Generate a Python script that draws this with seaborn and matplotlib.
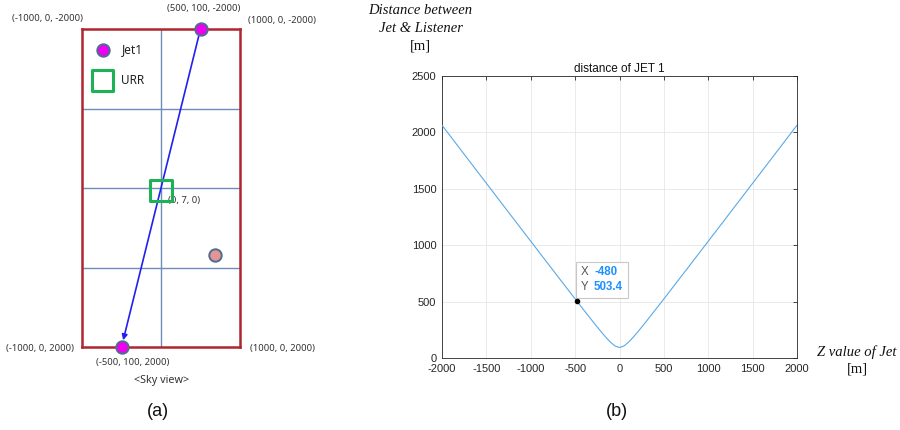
import numpy as np
import pandas as pd
import matplotlib
matplotlib.use("Agg")
import matplotlib.pyplot as plt
import seaborn as sns
from matplotlib.offsetbox import TextArea, HPacker, VPacker, AnnotationBbox

# ---------------- data ----------------
# (b) distance of JET 1 vs Z value of jet
z_vals = [-2000, -1750, -1500, -1250, -1000, -750, -500, -480, -400, -300, -250, -200,
          -150, -100, -50, 0, 50, 100, 150, 200, 250, 300, 400, 500, 750, 1000,
          1250, 1500, 1750, 2000]
dist_vals = [2063.7, 1806.3, 1549.0, 1291.8, 1035.0, 778.7, 523.7, 503.4, 422.7, 322.9,
             274.0, 226.2, 180.4, 138.8, 106.3, 93.0, 106.3, 138.8, 180.4, 226.2,
             274.0, 322.9, 422.7, 523.7, 778.7, 1035.0, 1291.8, 1549.0, 1806.3, 2063.7]
x_ticks = [-2000, -1500, -1000, -500, 0, 500, 1000, 1500, 2000]
y_ticks = [0, 500, 1000, 1500, 2000, 2500]
tip_x, tip_y = -480, 503.4

# (a) sky view (x, z) positions
area_x = [-1000, 1000]
area_z = [-2000, 2000]
grid_x = [0]
grid_z = [-1000, 0, 1000]
jet_start = (500, -2000)
jet_end = (-500, 2000)
urr_pos = (0, 0)
other_pos = (684, 843)
corner_labels = ["(-1000, 0, -2000)", "(1000, 0, -2000)", "(-1000, 0, 2000)", "(1000, 0, 2000)"]
corner_pts = [(-1000, -2000), (1000, -2000), (-1000, 2000), (1000, 2000)]
jet_labels = ["(500, 100, -2000)", "(-500, 100, 2000)"]
urr_label = "(0, 7, 0)"

# ---------------- figure ----------------
sns.set_theme(style="white")
plt.rcParams['font.family'] = ['Noto Sans', 'DejaVu Sans']
plt.rcParams['axes.unicode_minus'] = False

fig = plt.figure(figsize=(9, 4.3), dpi=100)

# ======== panel (a) ========
ax1 = fig.add_axes([82/900, 1-347/430, 158/900, 318/430])
ax1.set_xlim(area_x)
ax1.set_ylim(area_z[1], area_z[0])
ax1.set_xticks([]); ax1.set_yticks([])
for s in ax1.spines.values():
    s.set_color('#b0262f'); s.set_linewidth(1.8); s.set_zorder(5)
for gx in grid_x:
    ax1.axvline(gx, color='#6f8cb8', lw=1.0, zorder=1)
for gz in grid_z:
    ax1.axhline(gz, color='#6f8cb8', lw=1.0, zorder=1)

# jet path arrow
ax1.annotate("", xy=jet_end, xytext=jet_start,
             arrowprops=dict(arrowstyle='-|>', color='#2020f0', lw=1.2,
                             mutation_scale=8, shrinkA=0, shrinkB=5),
             annotation_clip=False, zorder=3)

jets = pd.DataFrame({"x": [jet_start[0], jet_end[0]], "z": [jet_start[1], jet_end[1]]})
sns.scatterplot(data=jets, x="x", y="z", ax=ax1, s=80, color='#f000f0',
                edgecolor='#4d6e8e', linewidth=1.4, zorder=6, clip_on=False, legend=False)
sns.scatterplot(x=[other_pos[0]], y=[other_pos[1]], ax=ax1, s=80, color='#e39494',
                edgecolor='#4d6e8e', linewidth=1.4, zorder=6, legend=False)
ax1.scatter([urr_pos[0]], [urr_pos[1] + 30], marker='s', s=230, facecolor='none',
            edgecolor='#1db355', linewidth=2.2, zorder=4)
ax1.set_xlabel(""); ax1.set_ylabel("")

# legend (drawn in-place)
ax1.scatter([-740], [-1740], s=80, color='#f000f0', edgecolor='#4d6e8e', linewidth=1.4, zorder=6)
ax1.text(-500, -1740, "Jet1", fontsize=8.5, va='center', ha='left', color='#222222')
ax1.scatter([-740], [-1350], marker='s', s=230, facecolor='none', edgecolor='#1db355',
            linewidth=2.2, zorder=6)
ax1.text(-500, -1350, "URR", fontsize=8.5, va='center', ha='left', color='#222222')

lab_kw = dict(textcoords='offset pixels', fontsize=6.8, color='#333333',
              ha='center', va='center', annotation_clip=False)
corner_offsets = [(-34, 10), (42, 9), (-42, -2), (43, -2)]
for lab, pt, off in zip(corner_labels, corner_pts, corner_offsets):
    ax1.annotate(lab, xy=pt, xytext=off, **lab_kw)
ax1.annotate(jet_labels[0], xy=jet_start, xytext=(3, 21), **lab_kw)
ax1.annotate(jet_labels[1], xy=jet_end, xytext=(11, -15), **lab_kw)
ax1.annotate(urr_label, xy=urr_pos, xytext=(7, -12), textcoords='offset pixels',
             fontsize=6.8, color='#333333', ha='left', va='center')
ax1.annotate("<Sky view>", xy=(0, 2000), xytext=(1, -34),
             **{**lab_kw, 'fontsize': 7.8})
fig.text(158/900, 1-412/430, "(a)", fontsize=13, ha='center', va='center',
         family='Liberation Sans', color='#111111')

# ======== panel (b) ========
ax2 = fig.add_axes([442/900, 72/430, 355/900, 282/430])
df = pd.DataFrame({"z": z_vals, "d": dist_vals})
sns.lineplot(data=df, x="z", y="d", ax=ax2, color='#5aa9e6', lw=0.8, zorder=3)
ax2.set_xlim(-2000, 2000)
ax2.set_ylim(0, 2500)
ax2.set_xticks(x_ticks)
ax2.set_yticks(y_ticks)
ax2.set_xlabel(""); ax2.set_ylabel("")
ax2.grid(True, color='#e6e6e6', lw=0.6, zorder=0)
ax2.tick_params(direction='in', top=True, right=True, length=3, width=0.6,
                labelsize=8, colors='#262626', pad=4)
for lab in ax2.get_xticklabels() + ax2.get_yticklabels():
    lab.set_family('Liberation Sans')
for s in ax2.spines.values():
    s.set_color('#262626'); s.set_linewidth(0.6)
ax2.set_title("distance of JET 1", fontsize=8.5, pad=3, family='Liberation Sans',
              color='#111111')

# data tip
ax2.plot([tip_x], [tip_y], 'o', color='black', ms=3, zorder=7)
tp_g = dict(color='#555555', size=8.3, family='Liberation Sans')
tp_b = dict(color='#1e90ff', size=8.3, family='Liberation Sans', weight='bold')
row1 = HPacker(children=[TextArea("X", textprops=tp_g), TextArea("-480", textprops=tp_b)],
               sep=4, pad=0, align='baseline')
row2 = HPacker(children=[TextArea("Y", textprops=tp_g), TextArea("503.4", textprops=tp_b)],
               sep=4, pad=0, align='baseline')
tipbox = VPacker(children=[row1, row2], sep=2, pad=0, align='left')
ab = AnnotationBbox(tipbox, (tip_x, tip_y), xybox=(4, 8), xycoords='data',
                    boxcoords='offset pixels', box_alignment=(0, 0), pad=0.45,
                    bboxprops=dict(boxstyle='square', fc='white', ec='#c8c8c8', lw=0.8),
                    zorder=6)
ax2.add_artist(ab)

# axis labels (serif)
ser = dict(family='Liberation Serif', fontsize=10.5, color='#111111', ha='center', va='center')
fig.text(420/900, 1-11/430, "Distance between", style='italic', **ser)
fig.text(421/900, 1-29/430, "Jet & Listener", style='italic', **ser)
fig.text(420/900, 1-46/430, "[m]", **ser)
fig.text(857/900, 1-352/430, "Z value of Jet", style='italic', **ser)
fig.text(857/900, 1-369/430, "[m]", **ser)
fig.text(617/900, 1-412/430, "(b)", fontsize=13, ha='center', va='center',
         family='Liberation Sans', color='#111111')

fig.savefig("out.png", dpi=100, facecolor='white')
